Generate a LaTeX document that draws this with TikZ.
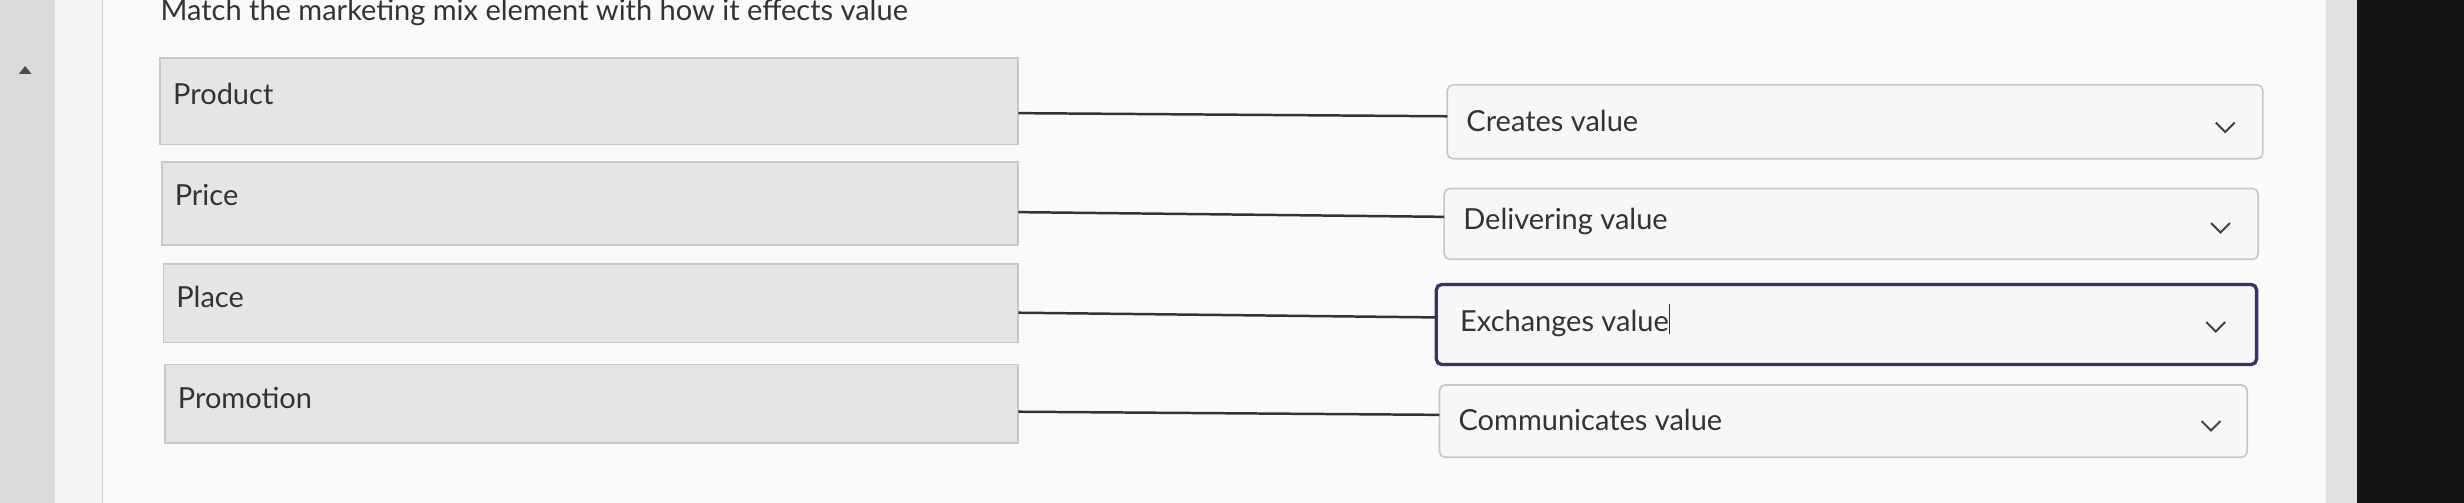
\documentclass[tikz,border=0pt]{standalone}
\usepackage{fontspec}
\setmainfont{Lato}
\begin{document}
\begin{tikzpicture}[x=0.02cm,y=-0.02cm,
  lbox/.style={draw=black!22,fill=black!10,line width=0.6pt},
  rbox/.style={draw=black!22,fill=white!97!black,line width=0.6pt,rounded corners=2pt},
  txt/.style={anchor=west,font=\fontsize{10.5}{12}\selectfont,text=black!80},
  conn/.style={draw=black!80,line width=0.9pt},
  chev/.style={draw=black!75,line width=0.7pt}]
\useasboundingbox (0,0) rectangle (1568,320);
\fill[black!8] (0,0) rectangle (1568,320);
\fill[black!14] (0,0) rectangle (35,320);
\fill[black!4] (35,0) rectangle (65,320);
\fill[black!2] (65,0) rectangle (1480,320);
\fill[black!12] (1480,0) rectangle (1500,320);
\fill[black!92] (1500,0) rectangle (1568,320);
\draw[black!20] (65,0) -- (65,320);
\fill[black!70] (12,47) -- (16,42) -- (20,47) -- cycle;
\node[txt] (title) at (96,8) {Match the marketing mix element with how it effects value};
% left
\path[lbox] (102,37) rectangle (648,92); \node[txt] (l1) at (104,60) {Product};
\path[lbox] (103,103) rectangle (648,156); \node[txt] (l2) at (105,124) {Price};
\path[lbox] (104,168) rectangle (648,218); \node[txt] (l3) at (106,189) {Place};
\path[lbox] (105,232) rectangle (648,282); \node[txt] (l4) at (107,253) {Promotion};
\coordinate (a1) at (648,72); \coordinate (a2) at (648,135);
\coordinate (a3) at (648,199); \coordinate (a4) at (648,262);
% right
\path[rbox] (921,54) rectangle (1440,101); \node[txt] (r1) at (927,77) {Creates value};
\path[rbox] (919,120) rectangle (1437,165); \node[txt] (r2) at (925,141) {Delivering value};
\path[rbox,draw=blue!30!black!80,line width=1.2pt] (914,181) rectangle (1436,232); \node[txt] (r3) at (923,204) {Exchanges value\rule[-1pt]{0.5pt}{11pt}};
\path[rbox] (916,245) rectangle (1430,291); \node[txt] (r4) at (922,267) {Communicates value};
\coordinate (b1) at (921,74); \coordinate (b2) at (919,138);
\coordinate (b3) at (914,202); \coordinate (b4) at (916,264);
\draw[conn] (a1) -- (b1); \draw[conn] (a2) -- (b2);
\draw[conn] (a3) -- (b3); \draw[conn] (a4) -- (b4);
\foreach \x/\y in {1416/81,1413/145,1410/208,1407/271}
  \draw[chev] (\x-6,\y-3) -- (\x,\y+3) -- (\x+6,\y-3);
\end{tikzpicture}
\end{document}
